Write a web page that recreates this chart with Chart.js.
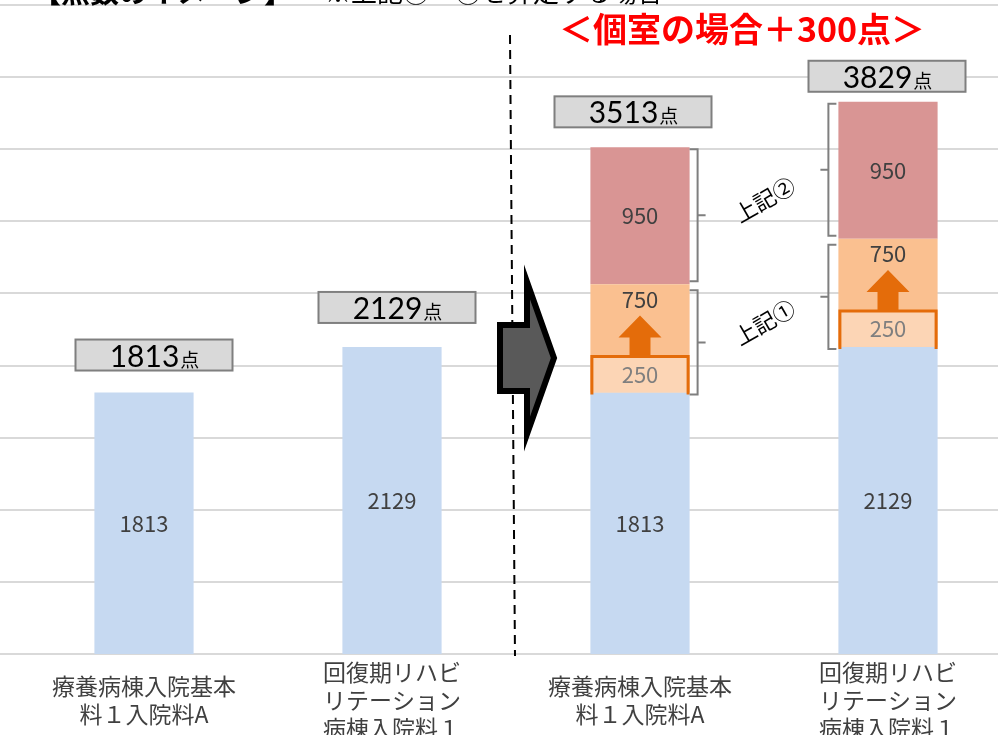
<!DOCTYPE html>
<html lang="ja">
<head>
<meta charset="utf-8">
<script src="https://cdn.jsdelivr.net/npm/chart.js@4.4.1/dist/chart.umd.min.js"></script>
<style>
  html, body { margin: 0; padding: 0; background: #fff; overflow: hidden; }
  #wrap { position: absolute; left: 0; top: 0; width: 1040px; height: 760px; }
</style>
</head>
<body>
<div id="wrap"><canvas id="chart"></canvas></div>
<script>
// categories and values
const categories = [
  ['療養病棟入院基本', '料１入院料A'],
  ['回復期リハビ', 'リテーション', '病棟入院料１'],
  ['療養病棟入院基本', '料１入院料A'],
  ['回復期リハビ', 'リテーション', '病棟入院料１']
];
const basePoints = [1813, 2129, 1813, 2129];
const addPoints1 = [null, null, 750, 750];     // 上記①
const addPoints2 = [null, null, 950, 950];     // 上記②
const reservedPoints = [null, null, 250, 250]; // part of ① shown as a box
const yTickValues = [0, 500, 1000, 1500, 2000, 2500, 3000, 3500, 4000, 4500];

const FONT = "'Noto Sans CJK JP', 'Noto Sans', sans-serif";
const NUM_FONT = "Lato, 'Noto Sans', sans-serif";
const colors = {
  base: '#C6D9F1',
  add1: '#FAC090',
  add2: '#D99594',
  reserved: '#FCD5B5',
  orange: '#E46C0A',
  grid: '#D9D9D9',
  text: '#404040'
};

// total label boxes: small nudges so they sit where the original ones do
const boxGap = [22, 24, 20, 10];
const boxShift = [10, 5, -7, -1];

function sumAt(j) {
  return (basePoints[j] || 0) + (addPoints1[j] || 0) + (addPoints2[j] || 0);
}

function bracket(ctx, xv, top, bottom, dir) {
  // dir = 1 : "}" on the right of a bar, dir = -1 : "{" on the left
  const mid = (top + bottom) / 2;
  ctx.beginPath();
  ctx.moveTo(xv - 8 * dir, top);
  ctx.lineTo(xv, top);
  ctx.lineTo(xv, bottom);
  ctx.lineTo(xv - 8 * dir, bottom);
  ctx.moveTo(xv, mid);
  ctx.lineTo(xv + 8 * dir, mid);
  ctx.stroke();
}

const decor = {
  id: 'decor',
  beforeDatasetsDraw(chart) {
    const { ctx, scales: { y } } = chart;
    ctx.save();
    ctx.strokeStyle = colors.grid;
    ctx.lineWidth = 2;
    yTickValues.forEach(v => {
      const py = Math.round(y.getPixelForValue(v));
      ctx.beginPath();
      ctx.moveTo(0, py);
      ctx.lineTo(chart.width, py);
      ctx.stroke();
    });
    ctx.restore();
  },
  afterDatasetsDraw(chart) {
    const { ctx, scales: { x, y } } = chart;
    const m0 = chart.getDatasetMeta(0).data;
    const m1 = chart.getDatasetMeta(1).data;
    const m2 = chart.getDatasetMeta(2).data;
    ctx.save();
    ctx.textAlign = 'center';
    ctx.textBaseline = 'middle';
    ctx.font = '22px ' + FONT;

    categories.forEach((c, j) => {
      const b = m0[j];
      const half = b.width / 2;
      ctx.fillStyle = colors.text;
      ctx.fillText(String(basePoints[j]), b.x, (b.y + b.base) / 2);

      if (addPoints2[j] != null) {
        const p = m2[j];
        ctx.fillStyle = colors.text;
        ctx.fillText(String(addPoints2[j]), p.x, (p.y + p.base) / 2);
      }
      if (addPoints1[j] != null) {
        const p = m1[j];
        ctx.fillStyle = colors.text;
        ctx.fillText(String(addPoints1[j]), p.x, p.y + 15);
      }
      if (reservedPoints[j] != null) {
        const y0 = y.getPixelForValue(basePoints[j]);
        const y1 = y.getPixelForValue(basePoints[j] + reservedPoints[j]);
        ctx.fillStyle = colors.reserved;
        ctx.fillRect(b.x - half, y1, b.width, y0 - y1);
        ctx.strokeStyle = colors.orange;
        ctx.lineWidth = 3;
        ctx.beginPath();
        ctx.moveTo(b.x - half + 1.5, y0 + 2);
        ctx.lineTo(b.x - half + 1.5, y1);
        ctx.lineTo(b.x + half - 1.5, y1);
        ctx.lineTo(b.x + half - 1.5, y0 + 2);
        ctx.stroke();
        ctx.fillStyle = '#7F7F7F';
        ctx.fillText(String(reservedPoints[j]), b.x, (y0 + y1) / 2);

        // orange up arrow on top of the box
        ctx.fillStyle = colors.orange;
        ctx.beginPath();
        ctx.moveTo(b.x - 10.5, y1 - 1);
        ctx.lineTo(b.x - 10.5, y1 - 19);
        ctx.lineTo(b.x - 21.5, y1 - 19);
        ctx.lineTo(b.x, y1 - 41);
        ctx.lineTo(b.x + 21.5, y1 - 19);
        ctx.lineTo(b.x + 10.5, y1 - 19);
        ctx.lineTo(b.x + 10.5, y1 - 1);
        ctx.closePath();
        ctx.fill();
      }

      // brackets for 上記① / 上記②
      if (addPoints1[j] != null) {
        const dir = j === 2 ? 1 : -1;
        const xv = dir > 0 ? b.x + half + 8 : b.x - half - 10;
        ctx.strokeStyle = '#7F7F7F';
        ctx.lineWidth = 2;
        const p1 = m1[j], p2 = m2[j];
        bracket(ctx, xv, p2.y + 2, p2.base - 3, dir);
        bracket(ctx, xv, p1.y + 6, p1.base + 2, dir);
        if (dir > 0) {
          ctx.fillStyle = '#000';
          ctx.font = '22px ' + FONT;
          [['上記②', p2], ['上記①', p1]].forEach(([t, p]) => {
            ctx.save();
            ctx.translate(b.x + half + 75, (p.y + p.base) / 2 - 16);
            ctx.rotate(-30 * Math.PI / 180);
            ctx.fillText(t, 0, 0);
            ctx.restore();
          });
        }
      }

      // total box
      const top = y.getPixelForValue(sumAt(j));
      const bw = 157, bh = 31;
      const bx = b.x + boxShift[j] - bw / 2;
      const by = top - boxGap[j] - bh;
      ctx.fillStyle = '#D9D9D9';
      ctx.fillRect(bx, by, bw, bh);
      ctx.strokeStyle = '#7F7F7F';
      ctx.lineWidth = 2;
      ctx.strokeRect(bx, by, bw, bh);
      const num = String(sumAt(j));
      ctx.textBaseline = 'alphabetic';
      ctx.textAlign = 'left';
      ctx.font = '30px ' + NUM_FONT;
      const wNum = ctx.measureText(num).width;
      ctx.font = '19px ' + FONT;
      const wTen = ctx.measureText('点').width;
      const sx = bx + bw / 2 - (wNum + wTen) / 2;
      ctx.fillStyle = '#000';
      ctx.font = '30px ' + NUM_FONT;
      ctx.fillText(num, sx, by + bh - 4);
      ctx.font = '19px ' + FONT;
      ctx.fillText('点', sx + wNum + 1, by + bh - 4);
      ctx.textAlign = 'center';
      ctx.textBaseline = 'middle';
      ctx.font = '22px ' + FONT;
    });

    // dashed divider and big grey arrow between the two pairs
    const mid = (x.getPixelForValue(1) + x.getPixelForValue(2)) / 2;
    ctx.strokeStyle = '#000';
    ctx.lineWidth = 2;
    ctx.setLineDash([9, 6]);
    ctx.beginPath();
    ctx.moveTo(mid - 6, 35);
    ctx.lineTo(mid - 1, chart.chartArea.bottom + 2);
    ctx.stroke();
    ctx.setLineDash([]);

    const ay = 358;
    ctx.fillStyle = '#595959';
    ctx.strokeStyle = '#000';
    ctx.lineWidth = 6;
    ctx.lineJoin = 'miter';
    ctx.beginPath();
    ctx.moveTo(mid - 16, ay - 33);
    ctx.lineTo(mid + 11, ay - 33);
    ctx.lineTo(mid + 11, ay - 76);
    ctx.lineTo(mid + 38, ay);
    ctx.lineTo(mid + 11, ay + 76);
    ctx.lineTo(mid + 11, ay + 33);
    ctx.lineTo(mid - 16, ay + 33);
    ctx.closePath();
    ctx.fill();
    ctx.stroke();
    ctx.restore();
  },
  afterDraw(chart) {
    const ctx = chart.ctx;
    ctx.save();
    // header, cut off at the top like in the original
    ctx.textAlign = 'left';
    ctx.textBaseline = 'alphabetic';
    ctx.fillStyle = '#000';
    ctx.font = 'bold 29px ' + FONT;
    ctx.fillText('【点数のイメージ】', 32, 3);
    ctx.font = '26px ' + FONT;
    ctx.fillText('※上記①～②を算定する場合', 325, 2);

    ctx.textAlign = 'center';
    ctx.textBaseline = 'middle';
    ctx.fillStyle = '#FF0000';
    ctx.font = 'bold 34px ' + FONT;
    ctx.fillText('＜個室の場合＋300点＞', 742, 29);
    ctx.restore();
  }
};

const ctx = document.getElementById('chart').getContext('2d');
const chart = new Chart(ctx, {
  type: 'bar',
  data: {
    labels: categories,
    datasets: [
      { label: '基本', data: basePoints, backgroundColor: colors.base },
      { label: '上記①', data: addPoints1, backgroundColor: colors.add1 },
      { label: '上記②', data: addPoints2, backgroundColor: colors.add2 }
    ]
  },
  options: {
    responsive: true,
    maintainAspectRatio: false,
    animation: false,
    layout: { padding: { left: 20, right: 28, top: 5, bottom: 0 } },
    datasets: { bar: { barPercentage: 0.4, categoryPercentage: 1, borderWidth: 0 } },
    plugins: {
      legend: { display: false },
      tooltip: { enabled: false }
    },
    scales: {
      x: {
        stacked: true,
        grid: { display: false },
        border: { display: false },
        ticks: {
          color: colors.text,
          font: { family: FONT, size: 23, lineHeight: '28px' },
          padding: 10,
          crossAlign: 'center',
          maxRotation: 0,
          autoSkip: false
        },
        afterFit(scale) { scale.height = 106; }
      },
      y: {
        stacked: true,
        display: false,
        min: 0,
        max: 4500,
        ticks: { stepSize: 500 }
      }
    }
  },
  plugins: [decor]
});
</script>
</body>
</html>
